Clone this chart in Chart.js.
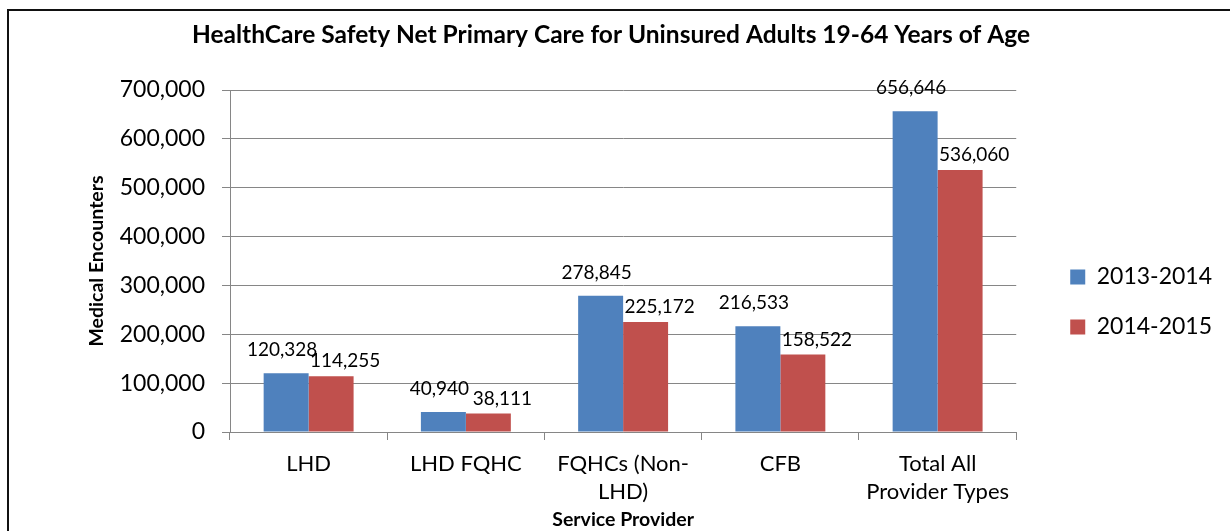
<!DOCTYPE html>
<html>
<head>
<meta charset="utf-8">
<script src="https://cdn.jsdelivr.net/npm/chart.js@4.4.1/dist/chart.umd.min.js"></script>
<style>
  html, body { margin: 0; padding: 0; background: #fff; overflow: hidden; }
  #frame { position: absolute; left: 7px; top: 9px; width: 1400px; height: 700px; border: 2px solid #111; }
  #wrap { position: absolute; left: 0; top: 0; width: 1230px; height: 531px; }
</style>
</head>
<body>
<div id="frame"></div>
<div id="wrap"><canvas id="chart" width="1230" height="531"></canvas></div>
<script>
const categories = ['LHD', 'LHD FQHC', ['FQHCs (Non-', 'LHD)'], 'CFB', ['Total All', 'Provider Types']];
const seriesNames = ['2013-2014', '2014-2015'];
const encounters1314 = [120328, 40940, 278845, 216533, 656646];
const encounters1415 = [114255, 38111, 225172, 158522, 536060];
const yTicks = [0, 100000, 200000, 300000, 400000, 500000, 600000, 700000];

const FONT = 'Lato';
const gridColor = '#868686';

// value labels above each bar (offsets per series, like the hand-placed Excel labels)
const labelShift = [{ dx: -4, dy: -23 }, { dx: 14, dy: -15 }];
const barLabels = {
    id: 'barLabels',
    afterDatasetsDraw(chart) {
        const ctx = chart.ctx;
        ctx.save();
        ctx.font = '19px ' + FONT;
        ctx.fillStyle = '#000';
        ctx.textAlign = 'center';
        ctx.textBaseline = 'middle';
        chart.data.datasets.forEach((ds, i) => {
            const s = labelShift[i];
            chart.getDatasetMeta(i).data.forEach((bar, j) => {
                ctx.fillText(ds.data[j].toLocaleString('en-US'), bar.x + s.dx, bar.y + s.dy);
            });
        });
        ctx.restore();
    }
};

function draw() {
    const ctx = document.getElementById('chart').getContext('2d');
    new Chart(ctx, {
        type: 'bar',
        data: {
            labels: categories,
            datasets: [
                { label: seriesNames[0], data: encounters1314, backgroundColor: '#4F81BD' },
                { label: seriesNames[1], data: encounters1415, backgroundColor: '#C0504D' }
            ]
        },
        options: {
            responsive: false,
            animation: false,
            devicePixelRatio: 1,
            categoryPercentage: 0.572,
            barPercentage: 1,
            layout: { padding: { left: 0, top: 0, bottom: 0, right: 8 } },
            plugins: {
                title: {
                    display: true,
                    text: 'HealthCare Safety Net Primary Care for Uninsured Adults 19-64 Years of Age',
                    color: '#000',
                    font: { family: FONT, size: 24.5, weight: 'bold' },
                    padding: { top: 20, bottom: 40.6 }
                },
                legend: {
                    position: 'right',
                    title: { display: true, text: '', padding: 0, font: { size: 12, lineHeight: '73px' } },
                    labels: {
                        boxWidth: 15,
                        boxHeight: 15,
                        padding: 27,
                        color: '#000',
                        font: { family: FONT, size: 23 }
                    }
                },
                tooltip: { enabled: false }
            },
            scales: {
                x: {
                    afterFit: s => { s.height = 99; },
                    grid: { offset: true, drawOnChartArea: false, drawTicks: true, tickLength: 8, color: gridColor },
                    border: { color: gridColor },
                    ticks: {
                        color: '#000',
                        padding: 10,
                        maxRotation: 0,
                        autoSkip: false,
                        font: { family: FONT, size: 22, lineHeight: '28px' }
                    },
                    title: {
                        display: true,
                        text: 'Service Provider',
                        color: '#000',
                        font: { family: FONT, size: 19.5, weight: 'bold' },
                        padding: { top: 0, bottom: 0 }
                    }
                },
                y: {
                    min: 0,
                    max: 700000,
                    afterFit: s => { s.width = 230; },
                    afterBuildTicks: axis => { axis.ticks = yTicks.map(v => ({ value: v })); },
                    grid: { color: gridColor, tickLength: 8 },
                    border: { color: gridColor },
                    ticks: {
                        color: '#000',
                        padding: 17,
                        font: { family: FONT, size: 23 },
                        callback: v => v.toLocaleString('en-US')
                    },
                    title: {
                        display: true,
                        text: 'Medical Encounters',
                        color: '#000',
                        font: { family: FONT, size: 19.5, weight: 'bold' },
                        padding: { top: 85, bottom: 0 }
                    }
                },
                // empty spacer axis to leave the gap between plot and legend
                y2: {
                    type: 'linear',
                    position: 'right',
                    afterFit: s => { s.width = 27; },
                    grid: { display: false },
                    border: { display: false },
                    ticks: { display: false }
                }
            }
        },
        plugins: [barLabels]
    });
}

Promise.all([
    document.fonts.load('23px ' + FONT),
    document.fonts.load('bold 21px ' + FONT)
]).then(draw, draw);
</script>
</body>
</html>
